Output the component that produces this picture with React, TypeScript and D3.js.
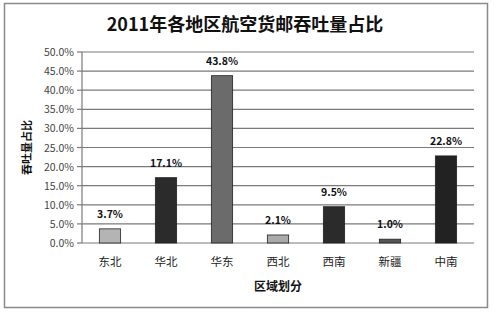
import React from "react";
import * as d3 from "d3";

const categories = ["东北", "华北", "华东", "西北", "西南", "新疆", "中南"];
const values = [3.7, 17.1, 43.8, 2.1, 9.5, 1.0, 22.8];
const barColors = ["#b4b4b4", "#2b2b2b", "#6b6b6b", "#aaaaaa", "#2b2b2b", "#555555", "#222222"];
const yTicks = [0, 5, 10, 15, 20, 25, 30, 35, 40, 45, 50];
const title = "2011年各地区航空货邮吞吐量占比";
const yTitle = "吞吐量占比";
const xTitle = "区域划分";

const W = 498, H = 313;
const plot = { left: 82, right: 474, top: 52, bottom: 243 };
const font = "'Noto Sans CJK SC', 'Noto Sans', sans-serif";

export default function App() {
  const x = d3.scaleBand<string>().domain(categories).range([plot.left, plot.right]).paddingInner(0.62).paddingOuter(0.31);
  const y = d3.scaleLinear().domain([0, 50]).range([plot.bottom, plot.top]);
  return (
    <svg width={W} height={H} style={{ position: "absolute", left: 0, top: 0, background: "#fff" }}>
      <rect x={4.5} y={3.5} width={483} height={304} fill="#fff" stroke="#8a8a8a" strokeWidth={1.5} />
      <text x={245} y={31} textAnchor="middle" fontFamily={font} fontWeight="bold" fontSize={18} fill="#111">{title}</text>
      {yTicks.map((t) => (
        <g key={t}>
          <line x1={plot.left} x2={plot.right} y1={y(t)} y2={y(t)} stroke="#7a7a7a" strokeWidth={1.2} />
          <line x1={plot.left - 5} x2={plot.left} y1={y(t)} y2={y(t)} stroke="#7a7a7a" strokeWidth={1.2} />
          <text x={plot.left - 8} y={y(t) + 4} textAnchor="end" fontFamily={font} fontSize={10.5} fill="#444">{t.toFixed(1) + "%"}</text>
        </g>
      ))}
      <line x1={plot.left} x2={plot.left} y1={plot.top} y2={plot.bottom} stroke="#7a7a7a" strokeWidth={1.2} />
      {categories.map((c, i) => (
        <g key={c}>
          <rect x={x(c)!} y={y(values[i])} width={x.bandwidth()} height={plot.bottom - y(values[i])} fill={barColors[i]} stroke="#222" strokeWidth={0.8} />
          <text x={x(c)! + x.bandwidth() / 2} y={y(values[i]) - 11} textAnchor="middle" fontFamily={font} fontWeight="bold" fontSize={10.5} fill="#111">{values[i].toFixed(1) + "%"}</text>
          <text x={x(c)! + x.bandwidth() / 2} y={266} textAnchor="middle" fontFamily={font} fontSize={11.5} fill="#222">{c}</text>
        </g>
      ))}
      <text x={278} y={291} textAnchor="middle" fontFamily={font} fontWeight="bold" fontSize={12} fill="#111">{xTitle}</text>
      <text transform={`translate(31,${(plot.top + plot.bottom) / 2}) rotate(-90)`} textAnchor="middle" fontFamily={font} fontWeight="bold" fontSize={11} fill="#111">{yTitle}</text>
    </svg>
  );
}
